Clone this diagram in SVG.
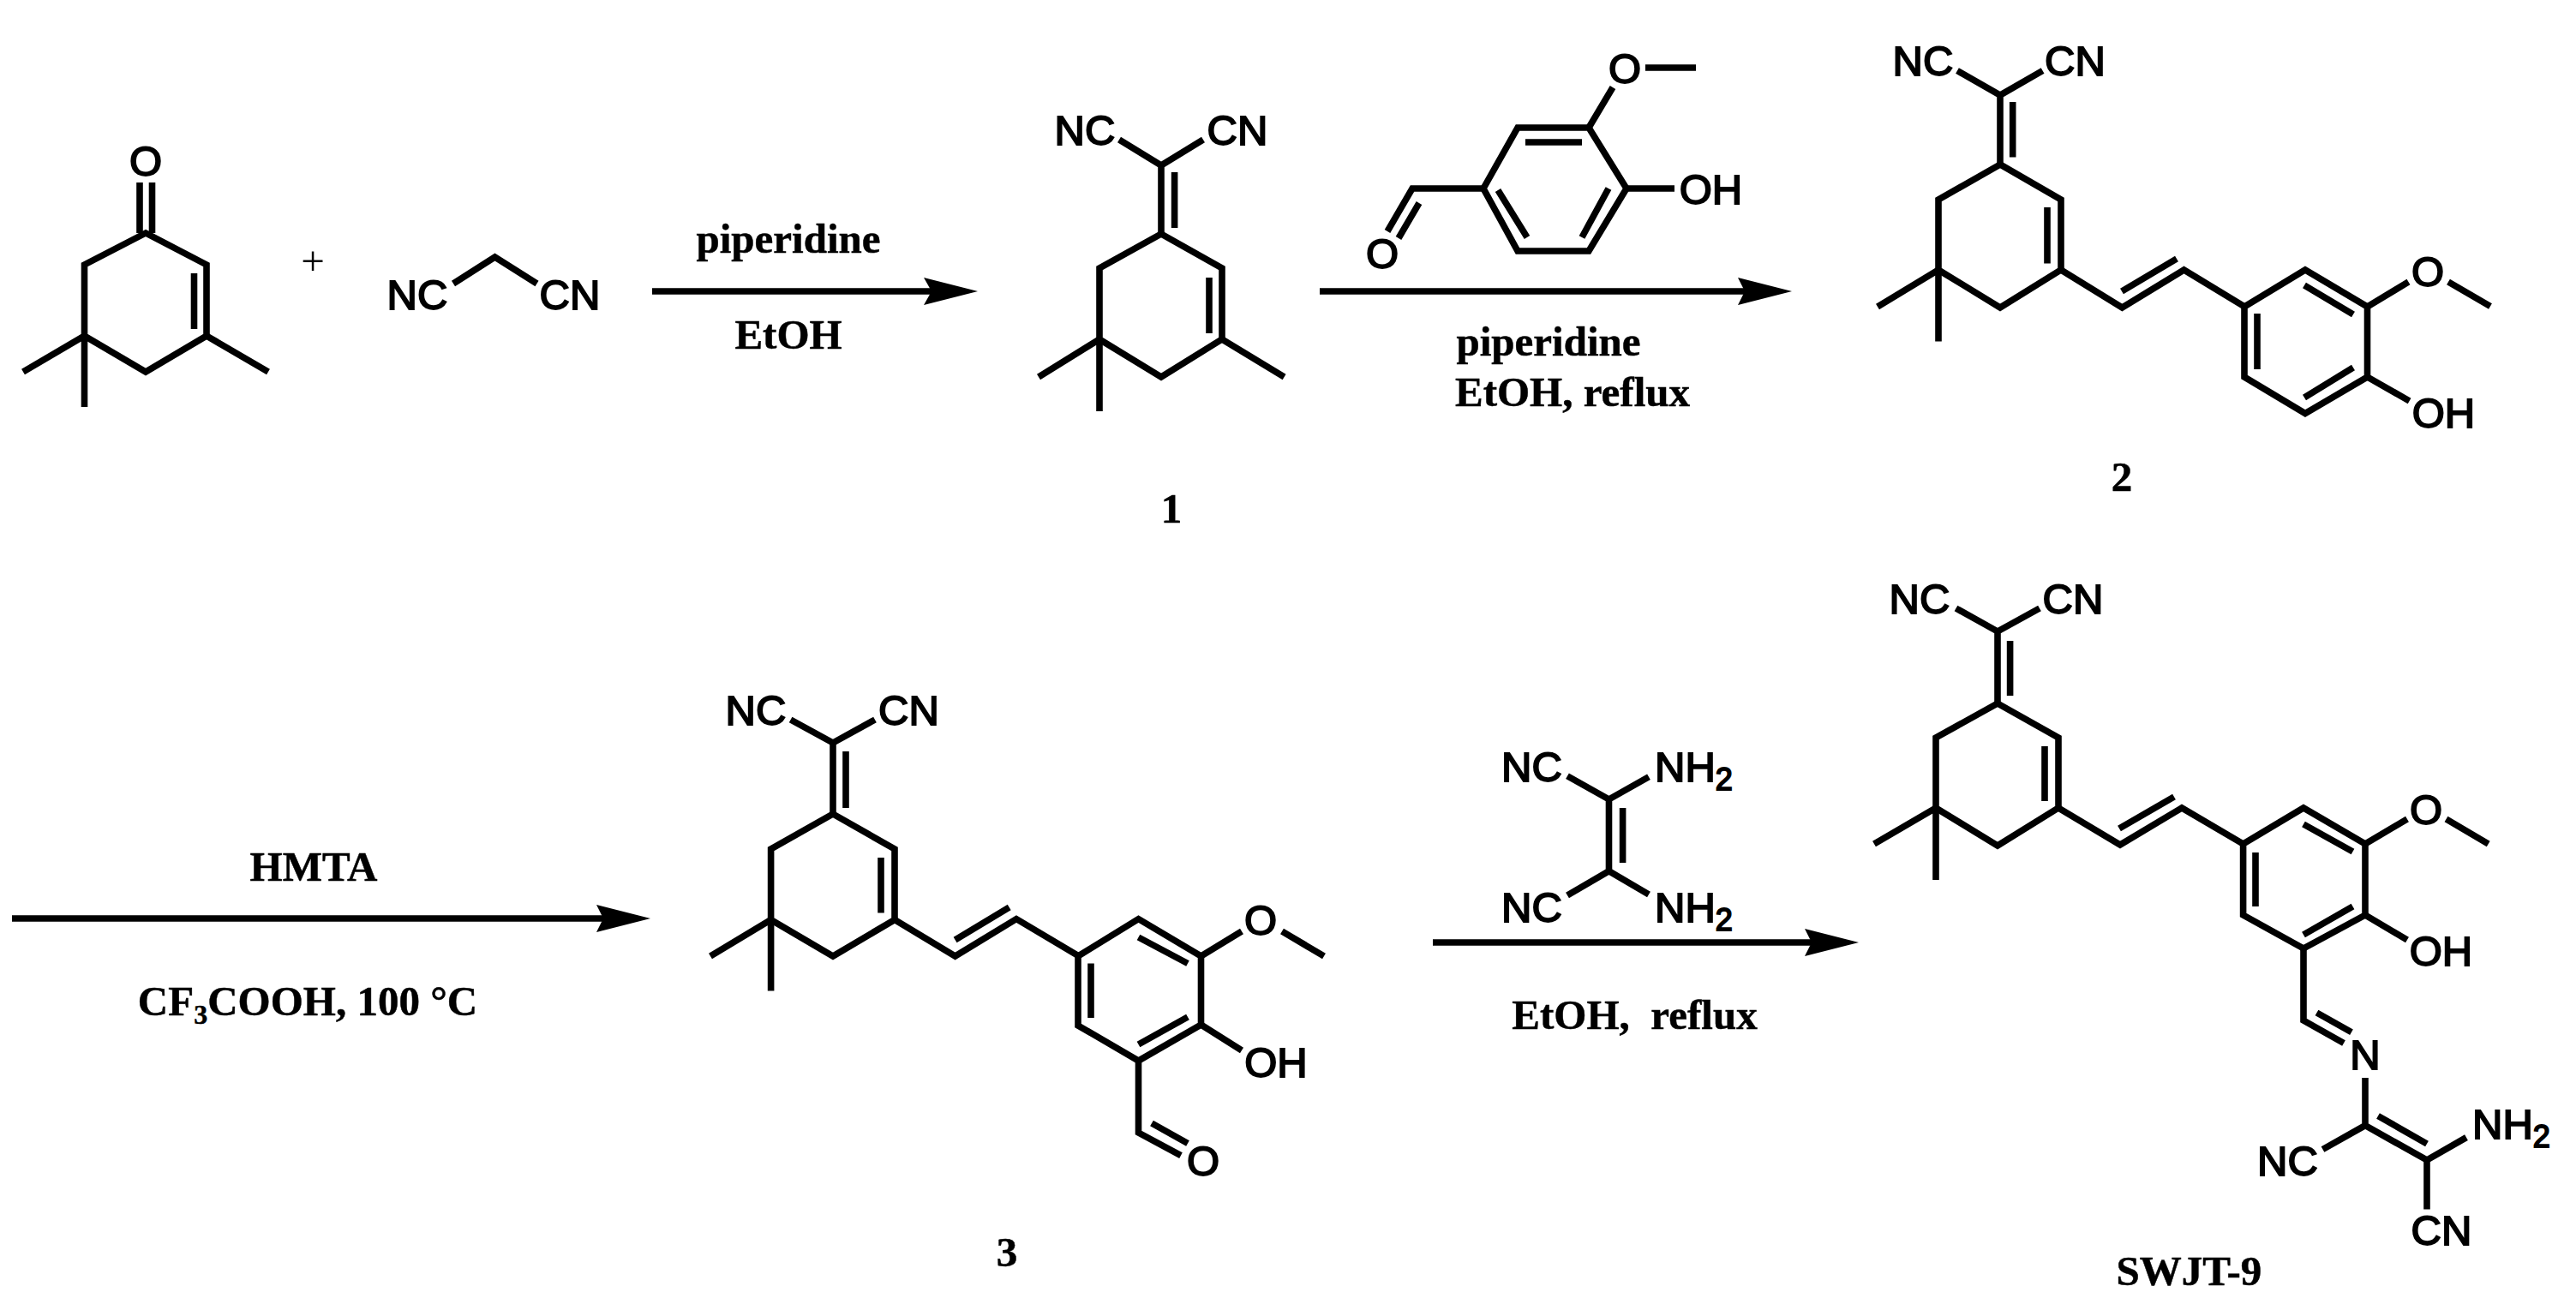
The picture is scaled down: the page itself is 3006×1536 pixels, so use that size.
<svg xmlns="http://www.w3.org/2000/svg" width="3006" height="1536" viewBox="0 0 3006 1536">
<style>
.b{fill:none;stroke:#000;stroke-width:7.6;stroke-linejoin:miter;stroke-miterlimit:4}
.a{font-family:"Liberation Sans",Arial,sans-serif;font-size:49px;fill:#000;stroke:#000;stroke-width:1.9;text-anchor:middle}
.s{text-anchor:start}
.t{font-family:"Liberation Serif","Times New Roman",serif;font-size:49px;font-weight:bold;fill:#000;stroke:#000;stroke-width:.5;text-anchor:middle}
.p{font-family:"Liberation Serif","Times New Roman",serif;font-size:49px;fill:#000;text-anchor:middle}
.sub{font-size:36px}
.ct{font-size:32px}
.ar{fill:none;stroke:#000;stroke-width:7.5}
.hd{fill:#000}
</style>
<rect width="3006" height="1536" fill="#fff"/>

<g id="connectors">
<path class="ar" d="M761 340H1088"/><path class="hd" d="M1078 324L1141 340L1078 356L1087 340Z"/>
<path class="ar" d="M1540 340H2040"/><path class="hd" d="M2028 324L2091 340L2028 356L2036 340Z"/>
<path class="ar" d="M14 1072H706"/><path class="hd" d="M696 1056L759 1072L696 1088L704 1072Z"/>
<path class="ar" d="M1672 1100H2116"/><path class="hd" d="M2106 1084L2169 1100L2106 1116L2114 1100Z"/>
</g>

<g id="isophorone">
<path class="b" d="M170 272L98.500 309V392L170 434L241 392V309Z"/>
<path class="b" d="M98.500 392L27 434M98.500 392V475M241 392L313 434M226.500 319V384M163 213V272M177.500 213V272"/>
<text class="a" x="170" y="204.500">O</text>
</g>
<g id="plus"><text class="p" x="365" y="321">+</text></g>
<g id="malononitrile">
<path class="b" d="M529 331L577.500 300L626.500 331"/>
<text class="a" x="487" y="361">NC</text>
<text class="a" x="665" y="361">CN</text>
</g>

<g id="reagent-1">
<text class="t" x="920" y="295">piperidine</text>
<text class="t" x="920" y="406.500">EtOH</text>
</g>

<g id="compound-1">
<path class="b" d="M1355 273L1283 313V396L1355 440L1426 396V313Z"/>
<path class="b" d="M1283 396L1212 440M1283 396V480M1426 396L1498.600 440M1411 324V389M1355 273V193M1306 163L1355 193L1404 163M1370.600 201V266"/>
<text class="a" x="1266" y="169">NC</text>
<text class="a" x="1444" y="169">CN</text>
<text class="t" x="1367" y="610">1</text>
</g>

<g id="vanillin">
<path class="b" d="M1771 149H1854L1898 220L1854 293H1771L1731 220Z"/>
<path class="b" d="M1780 166H1846M1877 220L1846 277M1748 222L1782 277M1854 149L1882 102M1920 79H1979M1898 220H1954M1731 220H1648L1619 270M1656 237L1632 278"/>
<text class="a" x="1896" y="96.500">O</text>
<text class="a" x="1996.500" y="238">OH</text>
<text class="a" x="1613" y="313">O</text>
</g>

<g id="reagent-2">
<text class="t" x="1807" y="415">piperidine</text>
<text class="t" x="1835" y="474">EtOH, reflux</text>
</g>

<g id="compound-2">
<path class="b" d="M2334 192L2262 233V315L2334 359L2405 315V233Z"/>
<path class="b" d="M2262 315L2191 358M2262 315V398.600M2389 242V307.500M2334 192V111M2284 82.500L2334 111L2383.600 82.500M2348.700 119V183.600"/>
<path class="b" d="M2405 315L2476.400 359L2548.500 315L2619.400 358M2476 340L2540 302"/>
<path class="b" d="M2619 358L2690 315L2762.500 358V440L2690 482.500L2619 440Z"/>
<path class="b" d="M2689 333L2746 367M2634 366V431M2689 464L2746 429M2762.500 358L2810.500 329M2857 329L2906 357.500M2762.500 440L2811.600 468"/>
<text class="a" x="2244" y="88">NC</text>
<text class="a" x="2421.500" y="88">CN</text>
<text class="a" x="2833" y="333.500">O</text>
<text class="a" x="2851.500" y="498.500">OH</text>
<text class="t" x="2476" y="573">2</text>
</g>

<g id="reagent-3">
<text class="t" x="366" y="1028">HMTA</text>
<text class="t" x="359" y="1185">CF<tspan class="ct" dy="10">3</tspan><tspan dy="-10">COOH, 100 °C</tspan></text>
</g>

<g id="compound-3">
<path class="b" d="M972 950L899.600 991V1073.500L972 1116L1044 1073.500V991Z"/>
<path class="b" d="M899.600 1073.500L829 1116M899.600 1073.500V1156.600M1028 1001V1065.500M972 950V867M922.600 840L972 867L1021 840M987 877V943"/>
<path class="b" d="M1044 1073.500L1114.600 1116L1186 1072.600L1259 1116M1114.600 1097L1177.700 1059"/>
<path class="b" d="M1258 1116L1328.500 1072.600L1401.500 1116V1196L1328.500 1238L1258 1197Z"/>
<path class="b" d="M1328.500 1094L1386 1124.500M1273 1124.500V1188M1328.500 1219L1386 1187M1401.500 1116L1449 1087M1496 1087L1545 1116M1401.500 1196L1449 1226M1328.500 1238V1322L1378 1348.600M1344 1311L1386 1334.500"/>
<text class="a" x="882" y="846">NC</text>
<text class="a" x="1060.500" y="846">CN</text>
<text class="a" x="1471" y="1091">O</text>
<text class="a" x="1489" y="1256.500">OH</text>
<text class="a" x="1404" y="1372">O</text>
<text class="t" x="1175" y="1478">3</text>
</g>

<g id="diaminomaleonitrile">
<path class="b" d="M1829 905.700L1877.500 933L1924 906.700M1877.500 933V1016.700M1829 1045L1877.500 1016.700L1924 1044M1893.600 943V1007"/>
<text class="a" x="1787.500" y="911.700">NC</text>
<text class="a s" x="1931" y="911.700">NH<tspan class="sub" dy="10">2</tspan></text>
<text class="a" x="1787.500" y="1075.700">NC</text>
<text class="a s" x="1931" y="1075.700">NH<tspan class="sub" dy="10">2</tspan></text>
</g>

<g id="reagent-4">
<text class="t" x="1907.500" y="1200.700">EtOH,&#160; reflux</text>
</g>

<g id="swjt-9">
<path class="b" d="M2331 821L2259 861V943L2331 987L2402 943V861Z"/>
<path class="b" d="M2259 943L2187 985M2259 943V1027M2386 871V935M2331 821V737M2282.500 710L2331 737L2380 710M2345.600 748V812"/>
<path class="b" d="M2402 943L2474 986L2546 943L2617.600 985M2473 967L2537 930"/>
<path class="b" d="M2617.600 985L2688 943L2760 985V1068L2688 1107L2617.600 1068Z"/>
<path class="b" d="M2688 962L2745.500 994M2632 995V1058M2688 1091L2745.500 1058M2760 985L2809 956M2854.500 956L2903.700 985M2760 1068L2809 1097"/>
<path class="b" d="M2688 1107V1191L2735 1217.500M2703.500 1182L2744 1204.700M2760 1258V1313.600L2832 1354V1411.400M2775 1302.500L2832 1335M2760 1313.600L2710.500 1341.500M2832 1354L2878 1327.600"/>
<text class="a" x="2240" y="716">NC</text>
<text class="a" x="2419" y="716">CN</text>
<text class="a" x="2831" y="962">O</text>
<text class="a" x="2848.500" y="1126.500">OH</text>
<text class="a" x="2760" y="1248">N</text>
<text class="a" x="2669.500" y="1372">NC</text>
<text class="a s" x="2885" y="1329">NH<tspan class="sub" dy="10">2</tspan></text>
<text class="a" x="2849" y="1453">CN</text>
<text class="t" x="2554.500" y="1500">SWJT-9</text>
</g>
</svg>
